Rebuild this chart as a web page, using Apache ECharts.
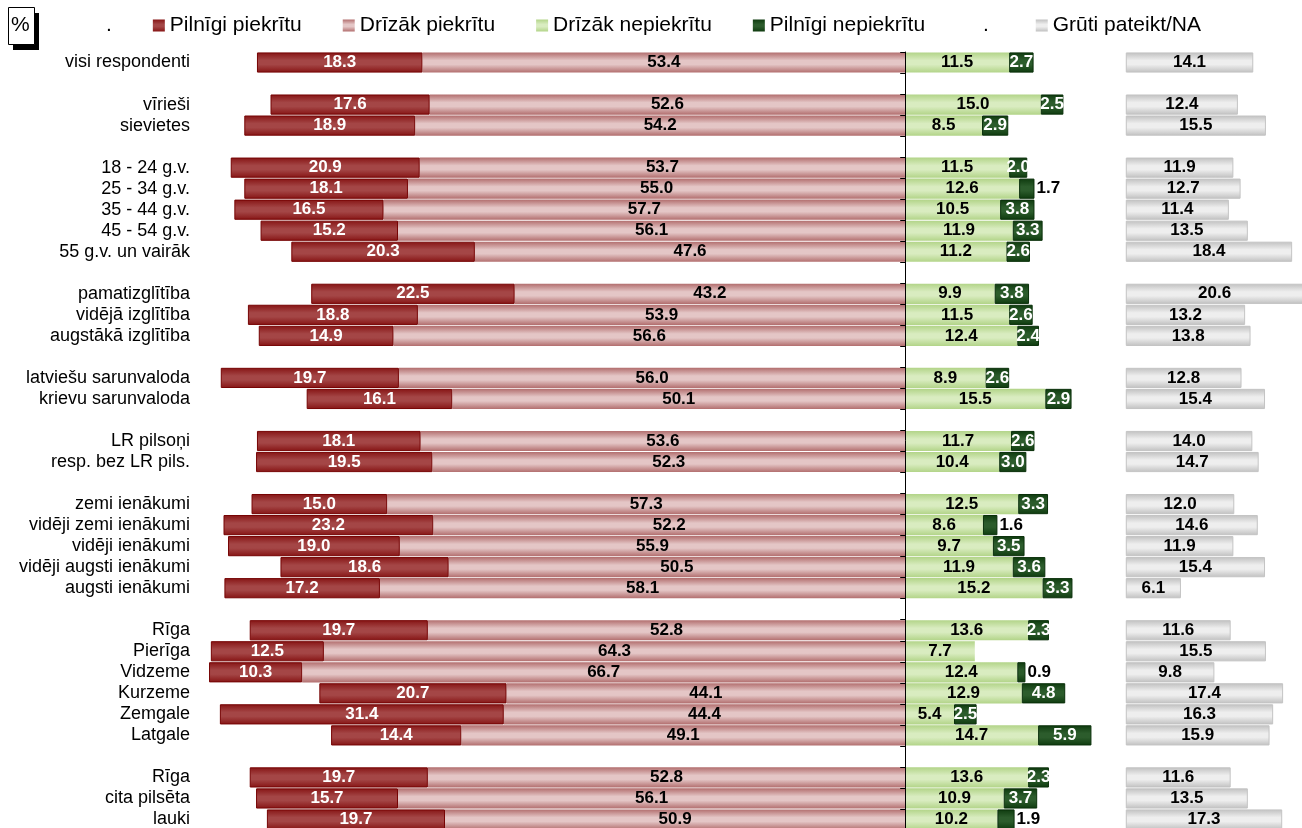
<!doctype html>
<html>
<head>
	<meta charset="UTF-8">
	<title>Attieksme</title>
	<style>
		html, body {
			margin: 0;
			padding: 0;
			background: #fff;
		}
		#chart {
			width: 1302px;
			height: 828px;
		}
	</style>
</head>
<body>
<div id="chart"></div>

<script src="https://cdn.jsdelivr.net/npm/echarts@6/dist/echarts.min.js"></script>
<script>
	// rindas (tukšās rindas = atstarpes starp grupām)
	var categories = ['visi respondenti', '',
		'vīrieši', 'sievietes', '',
		'18 - 24 g.v.', '25 - 34 g.v.', '35 - 44 g.v.', '45 - 54 g.v.', '55 g.v. un vairāk', '',
		'pamatizglītība', 'vidējā izglītība', 'augstākā izglītība', '',
		'latviešu sarunvaloda', 'krievu sarunvaloda', '',
		'LR pilsoņi', 'resp. bez LR pils.', '',
		'zemi ienākumi', 'vidēji zemi ienākumi', 'vidēji ienākumi', 'vidēji augsti ienākumi', 'augsti ienākumi', '',
		'Rīga', 'Pierīga', 'Vidzeme', 'Kurzeme', 'Zemgale', 'Latgale', '',
		'Rīga', 'cita pilsēta', 'lauki'];

	var pilnigiPiekritu = [18.3, null, 17.6, 18.9, null, 20.9, 18.1, 16.5, 15.2, 20.3, null, 22.5, 18.8, 14.9, null, 19.7, 16.1, null, 18.1, 19.5, null, 15.0, 23.2, 19.0, 18.6, 17.2, null, 19.7, 12.5, 10.3, 20.7, 31.4, 14.4, null, 19.7, 15.7, 19.7];
	var drizakPiekritu = [53.4, null, 52.6, 54.2, null, 53.7, 55.0, 57.7, 56.1, 47.6, null, 43.2, 53.9, 56.6, null, 56.0, 50.1, null, 53.6, 52.3, null, 57.3, 52.2, 55.9, 50.5, 58.1, null, 52.8, 64.3, 66.7, 44.1, 44.4, 49.1, null, 52.8, 56.1, 50.9];
	var drizakNepiekritu = [11.5, null, 15.0, 8.5, null, 11.5, 12.6, 10.5, 11.9, 11.2, null, 9.9, 11.5, 12.4, null, 8.9, 15.5, null, 11.7, 10.4, null, 12.5, 8.6, 9.7, 11.9, 15.2, null, 13.6, 7.7, 12.4, 12.9, 5.4, 14.7, null, 13.6, 10.9, 10.2];
	var pilnigiNepiekritu = [2.7, null, 2.5, 2.9, null, 2.0, 1.7, 3.8, 3.3, 2.6, null, 3.8, 2.6, 2.4, null, 2.6, 2.9, null, 2.6, 3.0, null, 3.3, 1.6, 3.5, 3.6, 3.3, null, 2.3, null, 0.9, 4.8, 2.5, 5.9, null, 2.3, 3.7, 1.9];
	var grutiPateikt = [14.1, null, 12.4, 15.5, null, 11.9, 12.7, 11.4, 13.5, 18.4, null, 20.6, 13.2, 13.8, null, 12.8, 15.4, null, 14.0, 14.7, null, 12.0, 14.6, 11.9, 15.4, 6.1, null, 11.6, 15.5, 9.8, 17.4, 16.3, 15.9, null, 11.6, 13.5, 17.3];

	var FONT = '"Liberation Sans", Arial, sans-serif';
	var NA_OFFSET = 24.4; // atstarpe līdz "Grūti pateikt" stabiņiem

	function grad(edge, mid) {
		return new echarts.graphic.LinearGradient(0, 0, 0, 1, [
			{offset: 0, color: edge},
			{offset: 0.4, color: mid},
			{offset: 0.6, color: mid},
			{offset: 1, color: edge}
		]);
	}

	function fmt(p) {
		return Math.abs(p.value).toFixed(1);
	}

	var lbl = function (color) {
		return {
			show: true,
			position: 'inside',
			color: color,
			fontFamily: FONT,
			fontWeight: 'bold',
			fontSize: 17,
			formatter: fmt
		};
	};

	var base = {
		type: 'bar',
		barGap: '-100%',
		barCategoryGap: '4%',
		emphasis: {disabled: true}
	};

	// mazās vērtības - etiķete ārpus stabiņa
	var darkData = pilnigiNepiekritu.map(function (v) {
		if (v == null) return null;
		if (v < 2) return {value: v, label: {position: 'right', distance: 2, color: '#000'}};
		return v;
	});

	var option = {
		animation: false,
		textStyle: {fontFamily: FONT},
		legend: {
			left: 84,
			top: 10,
			icon: 'rect',
			itemWidth: 12,
			itemHeight: 12,
			itemGap: 41,
			itemStyle: {borderWidth: 0},
			textStyle: {color: '#000', fontSize: 21, fontFamily: FONT},
			data: ['.', 'Pilnīgi piekrītu', 'Drīzāk piekrītu', 'Drīzāk nepiekrītu', 'Pilnīgi nepiekrītu', '. ', 'Grūti pateikt/NA'],
			selectedMode: false
		},
		graphic: [
			{type: 'rect', left: 13, top: 13, shape: {width: 26, height: 37}, style: {fill: '#000'}},
			{type: 'rect', left: 8, top: 7, shape: {width: 26, height: 37}, style: {fill: '#fff', stroke: '#000', lineWidth: 1}},
			{type: 'text', left: 11, top: 15, style: {text: '%', fontSize: 21, fontFamily: FONT, fill: '#000'}}
		],
		grid: {
			left: 200,
			top: 52,
			width: 1103,
			height: 778,
			containLabel: false,
			outerBoundsMode: 'none'
		},
		xAxis: {
			type: 'value',
			min: -78,
			max: 44,
			show: false
		},
		yAxis: {
			type: 'category',
			data: categories,
			inverse: true,
			z: 3,
			axisLine: {onZero: true, lineStyle: {color: '#000', width: 1}},
			axisTick: {show: true, length: 5, lineStyle: {color: '#000'}},
			axisLabel: {
				interval: 0,
				margin: 10,
				color: '#000',
				fontSize: 18,
				fontFamily: FONT
			},
			splitLine: {show: false}
		},
		series: [
			Object.assign({}, base, {
				name: '.',
				data: [],
				itemStyle: {color: 'rgba(0,0,0,0)'}
			}),
			Object.assign({}, base, {
				name: 'Drīzāk piekrītu',
				stack: 'a',
				data: drizakPiekritu.map(function (v) { return v == null ? null : -v; }),
				itemStyle: {color: grad('#b26e6e', '#e4c6c6')},
				label: lbl('#000')
			}),
			Object.assign({}, base, {
				name: 'Pilnīgi piekrītu',
				stack: 'a',
				data: pilnigiPiekritu.map(function (v) { return v == null ? null : -v; }),
				itemStyle: {color: grad('#861414', '#a44646'), borderColor: '#760404', borderWidth: 1},
				label: lbl('#fff')
			}),
			Object.assign({}, base, {
				name: 'Drīzāk nepiekrītu',
				stack: 'a',
				data: drizakNepiekritu,
				itemStyle: {color: grad('#b2d488', '#d9ecc0')},
				label: lbl('#000')
			}),
			Object.assign({}, base, {
				name: 'Pilnīgi nepiekrītu',
				stack: 'a',
				data: darkData,
				itemStyle: {color: grad('#0e3a0e', '#2c5c2c'), borderColor: '#0a300a', borderWidth: 1},
				label: lbl('#fff')
			}),
			Object.assign({}, base, {
				name: '. ',
				stack: 'g',
				data: grutiPateikt.map(function (v) { return v == null ? null : NA_OFFSET; }),
				itemStyle: {color: 'rgba(0,0,0,0)'}
			}),
			Object.assign({}, base, {
				name: 'Grūti pateikt/NA',
				stack: 'g',
				data: grutiPateikt,
				itemStyle: {color: grad('#c0c0c0', '#eeeeee'), borderColor: '#c4c4c4', borderWidth: 1},
				label: lbl('#000')
			})
		]
	};

	var chart = echarts.init(document.getElementById('chart'));
	chart.setOption(option);
</script>
</body>
</html>
